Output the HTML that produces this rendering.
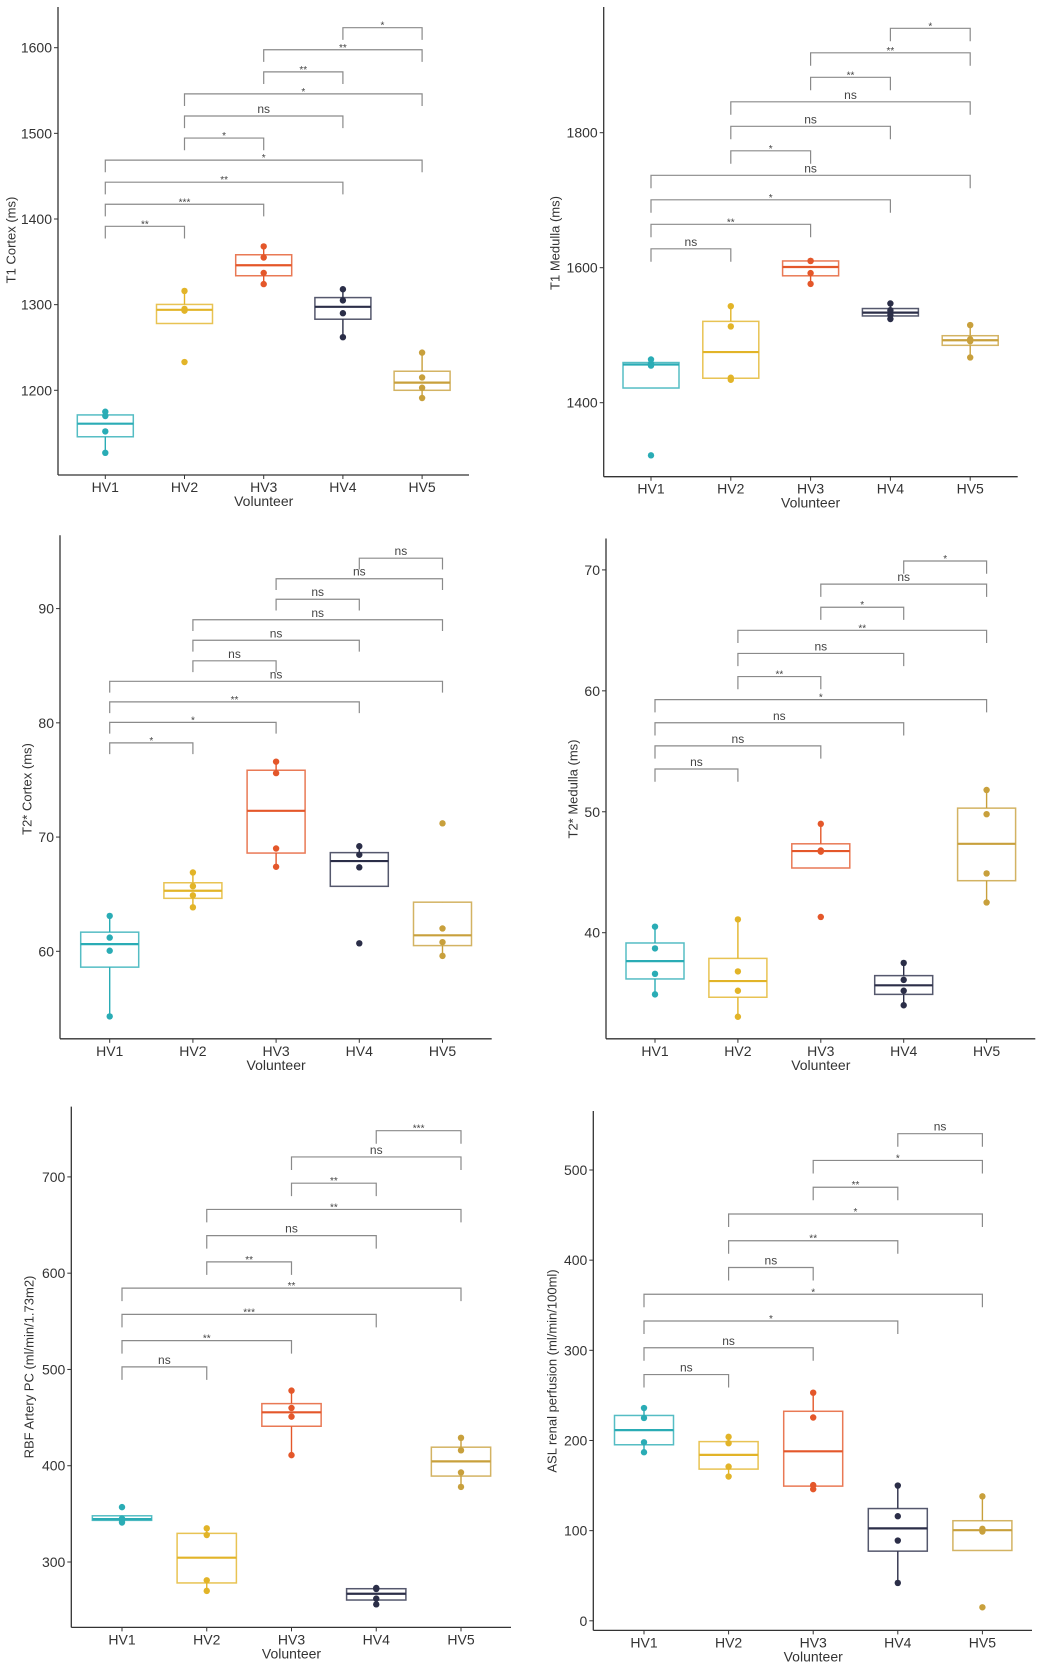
<!DOCTYPE html>
<html><head><meta charset="utf-8">
<style>
html,body{margin:0;padding:0;background:#fff;}
svg{display:block;font-family:"Liberation Sans",Arial,sans-serif;}
</style></head>
<body>
<svg id="fig" width="1043" height="1671" viewBox="0 0 1043 1671"></svg>
<script>
// ---------- data ----------
const categories = ["HV1","HV2","HV3","HV4","HV5"];
const colors = ["#2aacb5","#e2b428","#e4572a","#2b2e48","#c8a03c"];
const pairs = [[3,4],[2,4],[2,3],[1,4],[1,3],[1,2],[0,4],[0,3],[0,2],[0,1]];

const t1CortexPoints = [[1175,1170,1152,1127],[1316,1295,1293,1233],[1368,1355,1337,1324],[1318,1305,1290,1262],[1244,1215,1203,1191]];
const t1CortexSig = ["*","**","**","*","ns","*","*","**","***","**"];
const t1CortexTicks = [1200,1300,1400,1500,1600];

const t1MedullaPoints = [[1464,1458,1455,1322],[1543,1513,1437,1434],[1610,1610,1592,1576],[1547,1537,1530,1524],[1515,1494,1491,1467]];
const t1MedullaSig = ["*","**","**","ns","ns","*","ns","*","**","ns"];
const t1MedullaTicks = [1400,1600,1800];

const t2CortexPoints = [[63.1,61.2,60.05,54.3],[66.9,65.7,64.9,63.85],[76.6,75.6,69.0,67.4],[69.2,68.45,67.35,60.7],[71.2,62.0,60.8,59.6]];
const t2CortexSig = ["ns","ns","ns","ns","ns","ns","ns","**","*","*"];
const t2CortexTicks = [60,70,80,90];

const t2MedullaPoints = [[40.5,38.7,36.6,34.9],[41.1,36.8,35.2,33.05],[49.0,46.8,46.7,41.3],[37.5,36.1,35.2,34.0],[51.8,49.8,44.9,42.5]];
const t2MedullaSig = ["*","ns","*","**","ns","**","*","ns","ns","ns"];
const t2MedullaTicks = [40,50,60,70];

const rbfPoints = [[357,345,344,341],[335,328,281,270],[478,460,451,411],[273,272,262,256],[429,416,393,378]];
const rbfSig = ["***","ns","**","**","ns","**","**","***","**","ns"];
const rbfTicks = [300,400,500,600,700];

const aslPoints = [[236,225,198,187],[204,197,171,160],[253,225.5,150.5,146],[150,116,89,42],[138,102,99,15]];
const aslSig = ["ns","*","**","*","**","ns","*","*","ns","ns"];
const aslTicks = [0,100,200,300,400,500];

// ---------- layout (pixel geometry only) ----------
const panels = [
 {id:"t1-cortex", title:"T1 Cortex (ms)", pts:t1CortexPoints, sig:t1CortexSig, ticks:t1CortexTicks,
  ax:58, bottom:475, right:469, top:7, v1:1200,p1:390.3, v2:1600,p2:47.7, x0:105.3, dx:79.2, bw:56,
  brTop:27.7, brStep:22.07, titleX:12, titleY:240},
 {id:"t1-medulla", title:"T1 Medulla (ms)", pts:t1MedullaPoints, sig:t1MedullaSig, ticks:t1MedullaTicks,
  ax:603.7, bottom:476.7, right:1017.7, top:7, v1:1400,p1:402.7, v2:1800,p2:132.7, x0:651, dx:79.8, bw:56,
  brTop:28.3, brStep:24.5, titleX:556, titleY:243},
 {id:"t2star-cortex", title:"T2* Cortex (ms)", pts:t2CortexPoints, sig:t2CortexSig, ticks:t2CortexTicks,
  ax:60, bottom:1038.8, right:491.7, top:535.3, v1:60,p1:951.3, v2:90,p2:608.6, x0:109.7, dx:83.2, bw:58,
  brTop:558.2, brStep:20.52, titleX:28, titleY:789},
 {id:"t2star-medulla", title:"T2* Medulla (ms)", pts:t2MedullaPoints, sig:t2MedullaSig, ticks:t2MedullaTicks,
  ax:606, bottom:1038.8, right:1035.3, top:538.5, v1:40,p1:932.7, v2:70,p2:569.9, x0:655, dx:82.9, bw:58,
  brTop:561, brStep:23.11, titleX:574, titleY:789},
 {id:"rbf-artery", title:"RBF Artery PC (ml/min/1.73m2)", pts:rbfPoints, sig:rbfSig, ticks:rbfTicks,
  ax:71.3, bottom:1627.4, right:511, top:1106.6, v1:300,p1:1562, v2:700,p2:1176.9, x0:122, dx:84.75, bw:59.3,
  brTop:1130.7, brStep:26.24, titleX:30, titleY:1367},
 {id:"asl-perfusion", title:"ASL renal perfusion (ml/min/100ml)", pts:aslPoints, sig:aslSig, ticks:aslTicks,
  ax:593.3, bottom:1630.4, right:1032, top:1111, v1:0,p1:1620.8, v2:500,p2:1170, x0:644, dx:84.6, bw:59,
  brTop:1133.7, brStep:26.76, titleX:553, titleY:1371}
];

const NS = "http://www.w3.org/2000/svg";
const svg = document.getElementById("fig");
function mk(tag, attrs, parent){
  const e = document.createElementNS(NS, tag);
  for (const k in attrs) e.setAttribute(k, attrs[k]);
  (parent||svg).appendChild(e);
  return e;
}
function quant(sorted, p){
  const h = (sorted.length-1)*p, lo = Math.floor(h), hi = Math.ceil(h);
  return sorted[lo] + (h-lo)*(sorted[hi]-sorted[lo]);
}

panels.forEach(P => {
  const g = mk("g", {});
  
  
  const yS = v => P.p1 + (v - P.v1) * (P.p2 - P.p1) / (P.v2 - P.v1);
  const xS = i => P.x0 + i * P.dx;

  const yAxis = mk("line", {x1:P.ax, y1:P.top, x2:P.ax, y2:P.bottom, stroke:"#333", "stroke-width":1.3}, g);
  
  
  const xAxis = mk("line", {x1:P.ax, y1:P.bottom, x2:P.right, y2:P.bottom, stroke:"#333", "stroke-width":1.3}, g);
  
  

  P.ticks.forEach(t => {
    const y = yS(t);
    mk("line", {x1:P.ax-4, y1:y, x2:P.ax, y2:y, stroke:"#333", "stroke-width":1}, g);
    const tx = mk("text", {x:P.ax-6, y:y+5, "text-anchor":"end", "font-size":14, fill:"#333"}, g);
    tx.textContent = t;
    
    
  });
  categories.forEach((c,i) => {
    const x = xS(i);
    mk("line", {x1:x, y1:P.bottom, x2:x, y2:P.bottom+4, stroke:"#333", "stroke-width":1}, g);
    const tx = mk("text", {x:x, y:P.bottom+17, "text-anchor":"middle", "font-size":14, fill:"#333"}, g);
    tx.textContent = c;
    
    
  });
  const xt = mk("text", {x:(xS(0)+xS(4))/2, y:P.bottom+31, "text-anchor":"middle", "font-size":14, fill:"#333"}, g);
  xt.textContent = "Volunteer";
  
  
  const yt = mk("text", {x:P.titleX, y:P.titleY, "text-anchor":"middle", "font-size":13, fill:"#333",
    transform:`rotate(-90 ${P.titleX} ${P.titleY})`, "dominant-baseline":"middle"}, g);
  yt.textContent = P.title;
  
  

  P.pts.forEach((vals,i) => {
    const s = vals.slice().sort((a,b)=>a-b);
    const q1 = quant(s,0.25), med = quant(s,0.5), q3 = quant(s,0.75), iqr = q3-q1;
    const lo = Math.min(...s.filter(v => v >= q1-1.5*iqr));
    const hi = Math.max(...s.filter(v => v <= q3+1.5*iqr));
    const x = xS(i), col = colors[i];
    const bg = mk("g", {}, g);
    
    
    mk("line", {x1:x, y1:yS(hi), x2:x, y2:yS(q3), stroke:col, "stroke-width":1.4}, bg);
    mk("line", {x1:x, y1:yS(q1), x2:x, y2:yS(lo), stroke:col, "stroke-width":1.4}, bg);
    mk("rect", {x:x-P.bw/2, y:yS(q3), width:P.bw, height:yS(q1)-yS(q3), fill:"#fff", stroke:col, "stroke-width":1.5, "stroke-opacity":0.8}, bg);
    mk("line", {x1:x-P.bw/2, y1:yS(med), x2:x+P.bw/2, y2:yS(med), stroke:col, "stroke-width":2.2}, bg);
    vals.forEach(v => {
      const c = mk("circle", {cx:x, cy:yS(v), r:3.2, fill:col}, bg);
      
      
    });
  });

  pairs.forEach((pr,k) => {
    const y = P.brTop + k*P.brStep;
    const xa = xS(pr[0]), xb = xS(pr[1]);
    const d = Math.min(13, P.brStep*0.55);
    const bk = mk("path", {d:`M${xa},${y+d} V${y} H${xb} V${y+d}`, fill:"none", stroke:"#8a8a8a", "stroke-width":1.2}, g);
    
    
    const lab = P.sig[k];
    const isNs = lab === "ns";
    const tx = mk("text", {x:(xa+xb)/2, y: isNs ? y-3 : y+1, "text-anchor":"middle",
      "font-size": isNs ? 12 : 10, fill:"#444"}, g);
    tx.textContent = lab;
    
    
  });
});
</script>
</body></html>
